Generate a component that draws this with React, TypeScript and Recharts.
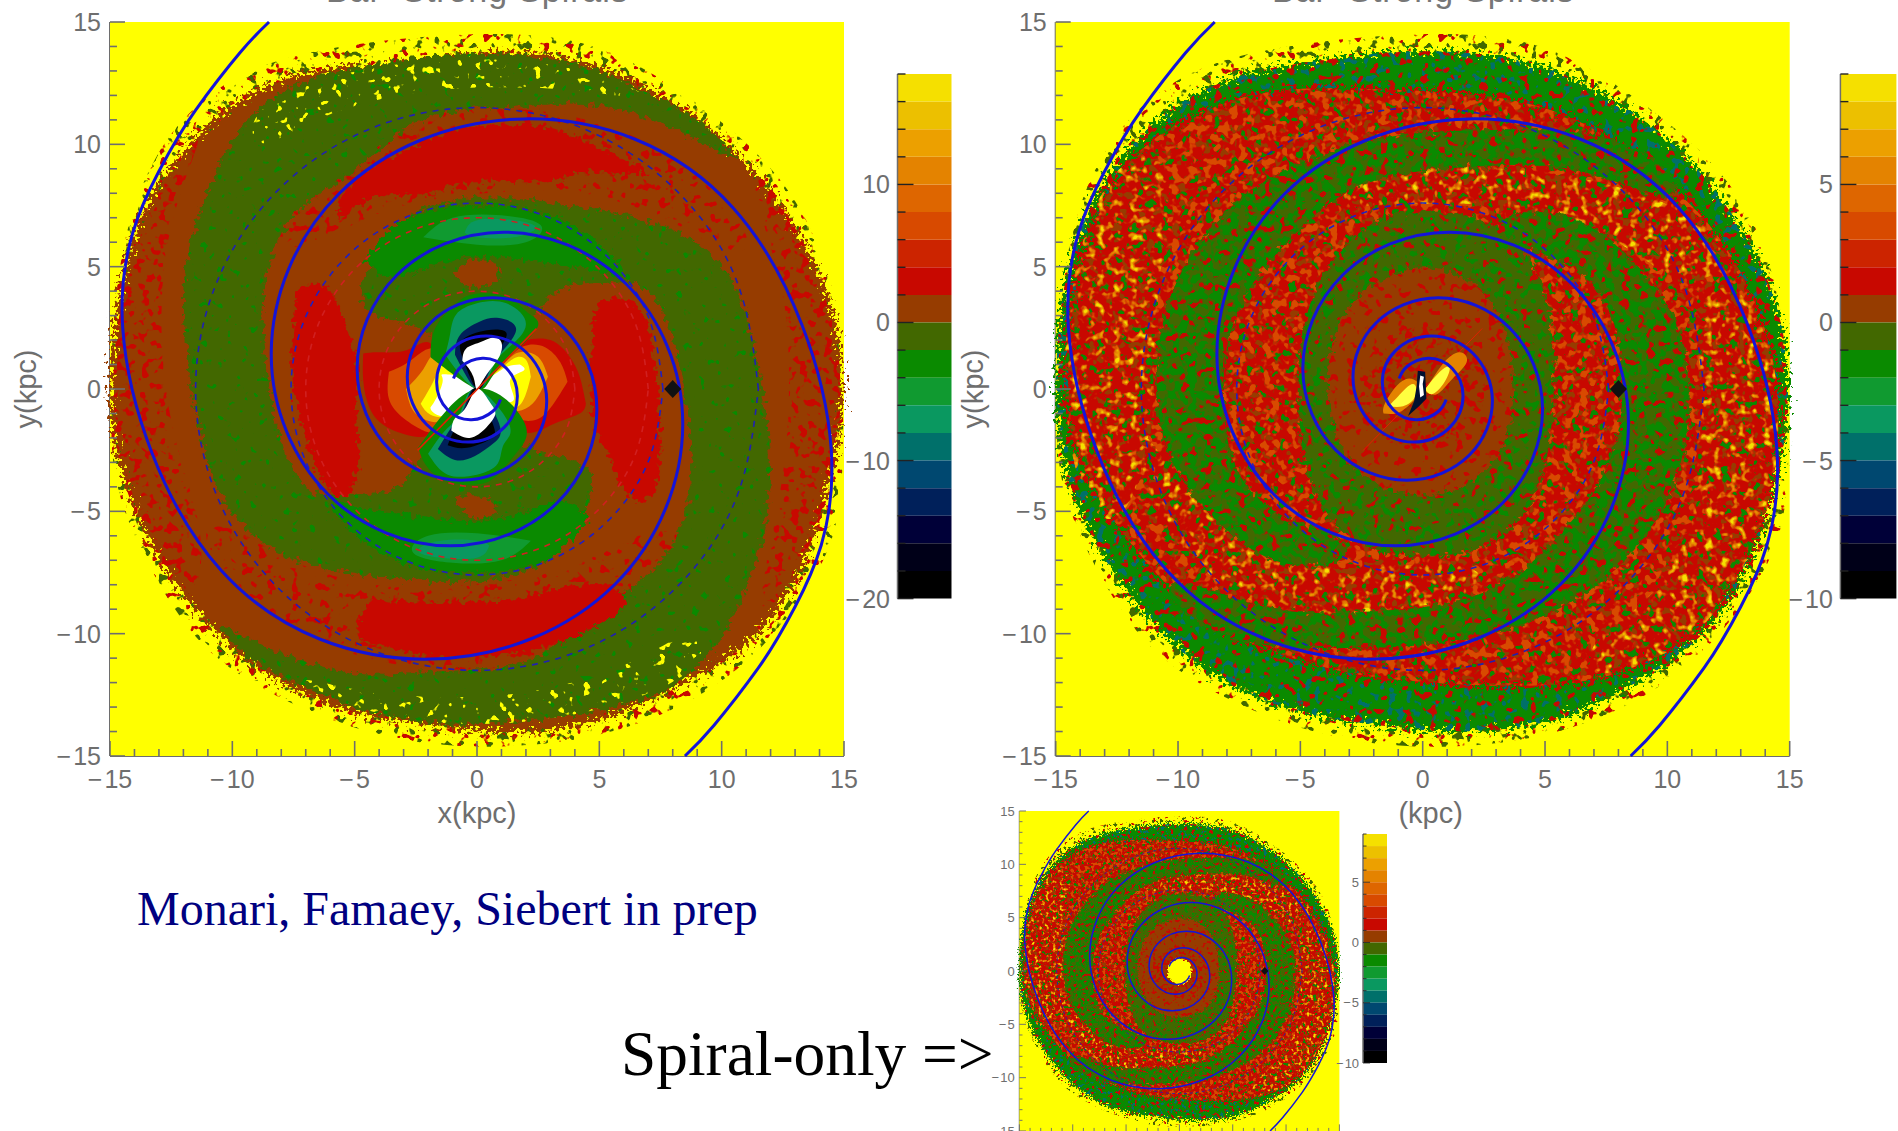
import React from 'react';
import { ScatterChart, Scatter, XAxis, YAxis, BarChart, Bar } from 'recharts';

type Pt = [number, number];
type Layer = { pts: Pt[]; fill?: string; stroke?: string; sw?: number; dash?: number[]; curve?: string; fx?: string };

const BAND_COLORS = ['#f5e000','#ecc000','#eca000','#e48300','#de6600','#d84a00','#cc2400','#c80800','#963c00','#426800','#0a8a00','#109a30','#0a9860','#00706a','#004870','#00205a','#000038','#000018','#000000'];
const AXIS_TICKS = [-15,-14,-13,-12,-11,-10,-9,-8,-7,-6,-5,-4,-3,-2,-1,0,1,2,3,4,5,6,7,8,9,10,11,12,13,14,15];
const LABELLED_TICKS = [-15,-10,-5,0,5,10,15];
const LEFT_BAR_TICKS = [-20,-18,-16,-14,-12,-10,-8,-6,-4,-2,0,2,4,6,8,10,12,14,16,18];
const LEFT_BAR_LABELS = [-20,-10,0,10];
const RIGHT_BAR_TICKS = [-10,-9,-8,-7,-6,-5,-4,-3,-2,-1,0,1,2,3,4,5,6,7,8,9];
const RIGHT_BAR_LABELS = [-10,-5,0,5];

const PLOT_CORNERS: Pt[] = [[-15,-15],[-15,15],[15,15],[15,-15]];
const ARM_ONE: Pt[] = [[-0.96,0.43],[-0.65,0.91],[0.22,1.26],[1.2,0.85],[1.65,-0.29],[1.11,-1.57],[-0.37,-2.17],[-2.06,-1.45],[-2.85,0.49],[-1.91,2.7],[0.65,3.73],[3.55,2.5],[4.9,-0.85],[3.28,-4.65],[-1.11,-6.41],[-6.09,-4.3],[-8.41,1.45],[-5.63,7.99],[1.91,11.04],[10.48,7.39],[14.48,-2.5],[13,-8.9],[11.5,-11.4],[9.69,-13.74],[8.5,-15]];
const ARM_TWO: Pt[] = [[0.96,-0.43],[0.65,-0.91],[-0.22,-1.26],[-1.2,-0.85],[-1.65,0.29],[-1.11,1.57],[0.37,2.17],[2.06,1.45],[2.85,-0.49],[1.91,-2.7],[-0.65,-3.73],[-3.55,-2.5],[-4.9,0.85],[-3.28,4.65],[1.11,6.41],[6.09,4.3],[8.41,-1.45],[5.63,-7.99],[-1.91,-11.04],[-10.48,-7.39],[-14.48,2.5],[-13,8.9],[-11.5,11.4],[-9.69,13.74],[-8.5,15]];
const DASH_R115: Pt[] = [[11.5,0],[10.62,4.4],[8.13,8.13],[4.4,10.62],[0,11.5],[-4.4,10.62],[-8.13,8.13],[-10.62,4.4],[-11.5,0],[-10.62,-4.4],[-8.13,-8.13],[-4.4,-10.62],[0,-11.5],[4.4,-10.62],[8.13,-8.13],[10.62,-4.4],[11.5,0]];
const DASH_R76: Pt[] = [[7.6,0],[7.02,2.91],[5.37,5.37],[2.91,7.02],[0,7.6],[-2.91,7.02],[-5.37,5.37],[-7.02,2.91],[-7.6,0],[-7.02,-2.91],[-5.37,-5.37],[-2.91,-7.02],[0,-7.6],[2.91,-7.02],[5.37,-5.37],[7.02,-2.91],[7.6,0]];
const DASH_R70: Pt[] = [[7,0],[6.47,2.68],[4.95,4.95],[2.68,6.47],[0,7],[-2.68,6.47],[-4.95,4.95],[-6.47,2.68],[-7,0],[-6.47,-2.68],[-4.95,-4.95],[-2.68,-6.47],[0,-7],[2.68,-6.47],[4.95,-4.95],[6.47,-2.68],[7,0]];
const DASH_R40: Pt[] = [[4,0],[3.7,1.53],[2.83,2.83],[1.53,3.7],[0,4],[-1.53,3.7],[-2.83,2.83],[-3.7,1.53],[-4,0],[-3.7,-1.53],[-2.83,-2.83],[-1.53,-3.7],[0,-4],[1.53,-3.7],[2.83,-2.83],[3.7,-1.53],[4,0]];
const BAR_LINE: Pt[] = [[-2.43,-2.51],[2.43,2.47]];
const SUN_MARK: Pt[] = [[8,0]];

const DISK_FRINGE: Pt[] = [[0,14.6],[-4.7,14.2],[-8.8,13.4],[-11.3,11.9],[-13.2,9.7],[-14.6,6.1],[-15,1],[-15,-2],[-14.7,-4.8],[-12.3,-9.4],[-10,-11.8],[-4.7,-14.2],[0,-14.8],[5.8,-14.3],[11,-11.7],[14.2,-7.4],[15,-4.7],[15,1],[14.2,6.1],[11.6,9.9],[6.6,13.4],[3.9,14.4]];

// left panel
const L_DISK: Pt[] = [[0,13.7],[-2,13.4],[-4.5,13.2],[-7,13],[-8.3,12.6],[-10.7,11.3],[-12.5,9.1],[-13.5,7.7],[-14.2,5.8],[-14.7,3.6],[-15,0.9],[-15,-1.8],[-14.2,-4.5],[-13.2,-6.7],[-11.7,-8.9],[-9.5,-11.2],[-7,-12.6],[-4.5,-13.4],[-2,-13.7],[0,-14],[3,-14.1],[5.5,-13.4],[7.5,-12.5],[10.5,-11],[12.2,-9.3],[13.5,-7],[14.2,-4.5],[14.9,-1.8],[15,0.9],[14.5,3.6],[13.5,5.8],[12.5,7.4],[11,9.4],[8.7,11.3],[6.2,12.8],[3.7,13.6],[1.7,13.8]];
const L_ARM_A: Pt[] = [[-8,12.4],[-5,13.2],[-2,13.6],[1,13.8],[4,13.4],[6,12.6],[8.5,11.4],[10,10.2],[11,9],[9,10.3],[5,11.9],[2,11.5],[-1,11.5],[-3,10.8],[-4.5,9.2],[-6,8.3],[-7.5,7.3],[-8.5,5.5],[-8.9,3],[-8.5,0],[-8,-2.5],[-7,-4.2],[-6.2,-4.4],[-4.5,-4.3],[-3.2,-4.2],[-2.5,-3],[-1.5,-2],[-0.3,-0.3],[1.5,-2],[2.5,-2.6],[3.2,-2.8],[4.7,-3],[4.8,-4.5],[4,-5.5],[3,-7.3],[0,-8],[-3,-7.8],[-6,-7.5],[-8.5,-6.6],[-9.7,-5.5],[-10.8,-4],[-11.5,-1],[-12,2],[-12,5],[-11.3,7.5],[-10,10.5]];
const L_ARM_B: Pt[] = [[8,-12.4],[5,-13.2],[2,-13.6],[-1,-13.8],[-4,-13.4],[-6,-12.6],[-8.5,-11.6],[-10,-10.5],[-11,-9.2],[-9,-10.5],[-5,-11.9],[-2,-11.5],[1,-11.5],[3,-10.8],[4.5,-9.2],[6,-8.3],[7.5,-7.3],[8.5,-5.5],[8.9,-3],[8.5,0],[8,2.5],[7,4.2],[6.2,4.4],[4.5,4.3],[3.2,4.2],[2.5,3],[1.5,2],[0.3,0.3],[-1.5,2],[-2.5,2.6],[-3.2,2.8],[-4.7,3],[-4.8,4.5],[-4,5.5],[-3,7.3],[0,8],[3,7.6],[6,7.2],[8.5,6.4],[9.7,5.5],[10.8,4],[11.5,1],[12,-2],[12,-5],[11.3,-7.5],[10,-10.5]];
const L_RED_TOP: Pt[] = [[-5.7,6.9],[-5.5,7.9],[-4.5,9],[-3,9.7],[-1,10.6],[1.5,10.8],[3.5,10.5],[5.5,9.6],[6.9,8.8],[4.5,8.9],[3,8.5],[0,8.5],[-2,8],[-4,7.9]];
const L_RED_BOTTOM: Pt[] = [[-4.4,-8.6],[-2,-8.7],[0,-8.7],[2,-8.5],[4,-8],[5.5,-8.2],[6,-8.9],[4,-10.1],[2,-10.7],[-1,-11],[-3.5,-10.6],[-4.9,-10]];
const L_RED_LEFT: Pt[] = [[-7.5,2.5],[-7.3,4],[-6.7,4.3],[-5.9,3.9],[-5.3,2.5],[-4.9,1],[-4.9,-1],[-4.9,-3.4],[-5.6,-4.4],[-6.4,-3.6],[-7,-2],[-7.5,0]];
const L_RED_RIGHT: Pt[] = [[7.5,-2.5],[7.3,-4],[6.7,-4.6],[5.9,-3.9],[5.3,-2.5],[4.7,-1],[4.7,2],[5,3.5],[6.2,3.6],[7,2.4],[7.4,0]];
const L_ZONE_LEFT: Pt[] = [[-11,11],[-13,8.5],[-14.6,4],[-15,0],[-14.6,-4],[-13,-7],[-11.5,-9],[-11,-6],[-12.5,-2],[-13,2],[-12.8,6],[-11.8,9]];
const L_ZONE_RIGHT: Pt[] = [[11,9.6],[13,7],[14.6,3],[15,0],[14.6,-4],[13.4,-7],[11.4,-10],[11.8,-7],[12.7,-3],[12.8,1],[12.6,4],[11.6,7]];
const L_ZONE_UPPER: Pt[] = [[-9,6],[-7.5,9],[-5,10.8],[-1,11.5],[3,11.5],[7,10.3],[10,8],[11.6,5.6],[10,5.5],[8,7],[4,8.3],[0,8],[-4,7.5],[-7,5.5]];
const L_ZONE_LOWER: Pt[] = [[9,-6],[7.5,-9],[5,-10.8],[1,-11.5],[-3,-11.5],[-7,-10.3],[-10,-8],[-11.6,-5.6],[-10,-5.5],[-8,-7],[-4,-8.3],[0,-8],[4,-7.5],[7,-5.5]];
const L_CAP_TOP: Pt[] = [[-9.5,11.2],[-7,12.6],[-3,13.4],[1,13.6],[5,13],[8,11.5],[5,12.2],[1,12.4],[-3,12.2],[-7,11],[-9,9.5]];
const L_CAP_BOTTOM: Pt[] = [[9.5,-11.2],[7,-12.6],[3,-13.6],[-1,-13.8],[-5,-13.2],[-8,-11.5],[-5,-12.4],[-1,-12.7],[3,-12.4],[7,-11],[9,-9.5]];
const L_GREEN_TOP: Pt[] = [[-4.6,5.2],[-3,6.9],[0,7.5],[3,7.1],[5,5.9],[6,4.7],[4.5,4.9],[2.5,5.2],[0,5.4],[-2,5],[-3.5,4.6]];
const L_GREEN_BOTTOM: Pt[] = [[4.6,-5.2],[3,-6.9],[0,-7.5],[-3,-7.1],[-5,-5.9],[-6,-4.7],[-4.5,-4.9],[-2.5,-5.2],[0,-5.4],[2,-5],[3.5,-4.6]];
const L_MID_TOP: Pt[] = [[-2.2,6.2],[-1,7],[1,7.1],[2.6,6.7],[2,6],[0,5.9]];
const L_MID_BOTTOM: Pt[] = [[2.2,-6.2],[1,-7],[-1,-7.1],[-2.6,-6.7],[-2,-6],[0,-5.9]];
const L_TEAL_TOP: Pt[] = [[-0.5,6.4],[0,6.9],[1.5,6.9],[2.4,6.6],[1.5,6.2],[0,6.2]];
const L_TEAL_BOTTOM: Pt[] = [[0.5,-6.4],[0,-6.9],[-1.5,-6.9],[-2.4,-6.6],[-1.5,-6.2],[0,-6.2]];
const L_BLOB_TOP: Pt[] = [[-0.9,4.7],[-0.4,5.2],[0.6,5.2],[0.9,4.6],[0.3,4.2],[-0.4,4.2]];
const L_BLOB_BOTTOM: Pt[] = [[-0.9,-4.6],[-0.4,-4.3],[0.4,-4.5],[0.8,-5],[0.2,-5.3],[-0.5,-5.1]];
const LOBE_TOP_G: Pt[] = [[-1.9,1.3],[-1.7,2.5],[-0.85,3.5],[0,3.9],[1.3,3.75],[2.1,3.1],[2.4,2.4],[0.8,0.75],[0,0]];
const LOBE_TOP_T: Pt[] = [[-1.3,1.4],[-1.1,2.25],[-0.85,3.05],[0,3.5],[1.2,3.5],[2,2.65],[1.3,1.7],[0.65,0.9],[0,0]];
const LOBE_TOP_D: Pt[] = [[-0.9,1.4],[-0.7,2.2],[0.1,2.75],[0.9,2.9],[1.6,2.45],[1,1.5],[0.5,0.7],[0,0]];
const LOBE_TOP_K: Pt[] = [[-0.6,1.3],[-0.6,2],[0.4,2.4],[1.2,2.3],[0.9,1.6],[0.4,0.6],[0,0]];
const LOBE_TOP_W: Pt[] = [[-0.6,1.15],[-0.45,1.65],[0.1,1.9],[0.65,2.1],[1,1.9],[0.9,1.3],[0.4,0.6],[0,0],[-0.15,0.5]];
const LOBE_BOT_G: Pt[] = [[-2.4,-2.4],[-2.1,-3.1],[-1.3,-3.75],[0,-3.9],[0.85,-3.5],[1.7,-2.5],[1.9,-1.3],[0,0]];
const LOBE_BOT_T: Pt[] = [[-2,-2.65],[-1.2,-3.5],[0,-3.5],[0.85,-3.05],[1.1,-2.25],[1.3,-1.4],[0,0],[-0.65,-0.9],[-1.3,-1.7]];
const LOBE_BOT_D: Pt[] = [[-1.6,-2.45],[-0.9,-2.9],[-0.1,-2.75],[0.7,-2.2],[0.9,-1.4],[0,0],[-0.5,-0.7],[-1,-1.5]];
const LOBE_BOT_K: Pt[] = [[-1.2,-2.3],[-0.4,-2.4],[0.6,-2],[0.6,-1.3],[0,0],[-0.4,-0.6],[-0.9,-1.6]];
const LOBE_BOT_W: Pt[] = [[-1.05,-1.7],[-0.3,-2],[0.4,-1.55],[0.75,-1],[0.5,-0.5],[0,0],[-0.45,-0.75],[-0.9,-1.2]];
const LOBE_L_1: Pt[] = [[-4.65,1.45],[-4.65,0.35],[-4.4,-0.75],[-3.7,-1.55],[-2.5,-1.95],[-1.8,-1.75],[-0.85,-0.9],[0,0],[-0.85,0.9],[-1.7,1.7],[-2.2,1.9],[-3,1.55],[-4,1.5]];
const LOBE_L_2: Pt[] = [[-3.6,0.7],[-3.6,-0.4],[-3,-1.2],[-2.2,-1.7],[-1.7,-1.65],[-0.85,-0.9],[0,0],[-0.85,0.9],[-1.5,1.55],[-2.1,1.6],[-2.8,1.1]];
const LOBE_L_3: Pt[] = [[-2.9,0],[-2.6,-0.9],[-2,-1.3],[-1.5,-1.3],[-0.8,-0.8],[0,0],[-0.8,0.8],[-1.3,1.3],[-1.8,1.4],[-2.2,0.8]];
const LOBE_L_4: Pt[] = [[-2.3,-0.6],[-1.9,-1.05],[-1.2,-1.1],[-0.6,-0.6],[0,0],[-0.65,0.65],[-1.1,1.05],[-1.5,1.1],[-1.7,0.5]];
const LOBE_L_5: Pt[] = [[-1.9,-0.75],[-1.65,-0.35],[-1.4,0.35],[-1.4,0.6],[-0.7,0.5],[-0.3,0.2],[0,0],[-0.55,-0.45],[-0.95,-1],[-1.5,-1.1],[-1.85,-0.9]];
const LOBE_R_1: Pt[] = [[4.45,-0.6],[4.2,0.5],[3.8,1.3],[3,2],[2,2],[1.6,1.7],[0.8,0.8],[0,0],[0.65,-1],[1.3,-1.4],[2.1,-1.8],[3.2,-1.4],[4.2,-1]];
const LOBE_R_2: Pt[] = [[3.7,0.3],[3.4,1.1],[2.8,1.7],[2.1,1.8],[1.5,1.5],[0.8,0.8],[0,0],[0.7,-0.9],[1.4,-1.2],[2.2,-1.3],[2.9,-0.9]];
const LOBE_R_3: Pt[] = [[2.9,0.5],[2.6,1.2],[2.1,1.5],[1.5,1.4],[0.8,0.75],[0,0],[0.65,-0.75],[1.3,-0.95],[2,-0.8],[2.5,-0.3]];
const LOBE_R_4: Pt[] = [[2.2,0.5],[2,1.2],[1.5,1.25],[0.8,0.7],[0,0],[0.6,-0.7],[1.2,-0.8],[1.8,-0.6]];
const LOBE_R_5: Pt[] = [[1.75,1],[1.9,0.75],[1.35,0.35],[1.5,-0.45],[0.65,-0.45],[0,0],[0.65,0.55],[1.2,0.9]];

// right panel
const R_DISK: Pt[] = [[0,13.9],[-3,13.6],[-6,13.2],[-8.3,12.6],[-10.7,11.3],[-12.5,9.3],[-13.5,7.7],[-14.3,5.8],[-14.8,3.6],[-15,0.9],[-15,-1.8],[-14.3,-4.5],[-13.2,-6.7],[-11.7,-8.9],[-9.5,-11.2],[-7,-12.6],[-4.5,-13.4],[-2,-13.7],[0,-14],[3,-14],[5.5,-13.6],[7.5,-12.7],[10.5,-11],[12.2,-9.3],[13.5,-7],[14.3,-4.5],[14.9,-1.8],[15,0.9],[14.5,3.6],[13.5,5.8],[12.5,7.4],[11,9.4],[8.7,11.3],[6.2,12.8],[3.7,13.6]];
const R_RED_BASE: Pt[] = [[0,12.2],[3,12],[6,11.3],[8.5,9.7],[10.5,8],[12,6.5],[13.5,4],[14.5,1],[14.6,-2],[14.2,-5],[13,-7.5],[11.8,-9.5],[9.8,-11],[7,-12],[4,-12.2],[0,-12],[-3,-11.7],[-6,-10.8],[-8.8,-9.7],[-11,-7.5],[-13,-5],[-14.3,-2.5],[-14.7,0],[-14.5,3],[-14,5.5],[-13,8],[-11.5,10],[-9,11.5],[-6,12.3],[-3,12.3]];
const R_ARM_A: Pt[] = [[3,7.2],[6,7.4],[8.5,5.5],[10.5,3],[11,0],[10.7,-3],[9.6,-5.5],[7.5,-8],[4.5,-9.6],[1,-10.5],[-3,-10.6],[-7,-10.6],[-9.5,-9.5],[-10.8,-8],[-9.5,-7.8],[-6,-9.3],[-2,-9.1],[2,-8.8],[4.5,-7.2],[6,-5.5],[7.3,-4],[8.2,-1.5],[8.2,1.5],[7.5,4],[5.5,5.5],[3,6]];
const R_ARM_B: Pt[] = [[-3,-7.2],[-6,-7.4],[-8.5,-5.5],[-10.5,-3],[-11,0],[-10.7,3],[-9.6,5.5],[-7.5,8],[-4.5,9.6],[-1,10.5],[3,10.6],[7,10.6],[9.5,9.5],[10.8,8],[9.5,7.8],[6,9.3],[2,9.1],[-2,8.8],[-4.5,7.2],[-6,5.5],[-7.3,4],[-8.2,1.5],[-8.2,-1.5],[-7.5,-4],[-5.5,-5.5],[-3,-6]];
const R_RING: Pt[] = [[0,7.4],[3,7],[4.8,5],[5.4,2],[5.4,0],[5.2,-2.5],[4.5,-5],[2.5,-6.7],[0,-6.9],[-2.5,-6.6],[-4.2,-5],[-5,-2.5],[-5.1,0],[-5,2.5],[-4,5.2],[-2,7]];
const R_CORE: Pt[] = [[0,5.2],[2.3,4.5],[3.5,2.5],[3.8,0],[3.5,-2.5],[2,-4],[0,-4.5],[-2,-4],[-3.5,-2.5],[-4,0],[-3.7,2.5],[-2.3,4.3]];
const R_INNER: Pt[] = [[0,2.8],[2,2],[2.8,0],[2,-2],[0,-2.8],[-2,-2],[-2.8,0],[-2,2]];
const R_HOT_LEFT: Pt[] = [[-13,9],[-14.6,4],[-14.7,-1],[-14,-4.5],[-12.5,-6],[-11.2,-3],[-11,1],[-10.8,5],[-10,8.5],[-11,9.8]];
const R_HOT_SWEEP: Pt[] = [[-11.8,-1],[-10.2,-3.5],[-8.3,-5.7],[-6.3,-7.3],[-3,-7.4],[0,-7.1],[3,-7.3],[1.5,-8.8],[-3,-9.2],[-6,-9.3],[-9.3,-7.5],[-11.5,-4]];
const R_HOT_RIGHT: Pt[] = [[11.2,4.5],[13.3,4.2],[14.5,1],[14.6,-2],[14.2,-5],[13,-7.5],[11.8,-9.5],[9.8,-11],[7,-12],[6.5,-10.5],[9,-9],[10.8,-6.5],[11.5,-3],[11.3,1]];
const R_HOT_TOP: Pt[] = [[13,5],[11.5,7],[8,8.4],[4,9],[0,9.2],[-3,8.9],[-5,7.8],[-3,7.4],[0,7.6],[4,7.6],[8,6.3],[10.5,4]];
const BAR_ORANGE_R: Pt[] = [[0.1,-0.1],[0.8,1],[1.5,1.5],[1.8,1.1],[1.2,0.4],[0.6,-0.2]];
const BAR_YELLOW_R: Pt[] = [[0.1,0],[0.7,0.7],[1.1,0.9],[0.9,0.3],[0.4,-0.2]];
const BAR_ORANGE_L: Pt[] = [[-1.6,-1],[-1.5,-0.5],[-0.7,0.4],[-0.1,0],[-0.6,-0.7],[-1.1,-1]];
const BAR_YELLOW_L: Pt[] = [[-1.4,-0.7],[-1,-0.3],[-0.4,0.2],[-0.3,-0.3],[-0.8,-0.7]];
const BAR_DARK: Pt[] = [[-0.2,0.75],[0.1,0.7],[0.15,-0.4],[-0.15,-0.7],[-0.6,-1.1],[-0.35,-0.5],[-0.25,0.1]];
const BAR_WHITE: Pt[] = [[-0.1,0.55],[0.05,0.5],[0,0.2],[0.05,-0.25],[-0.1,-0.35],[-0.15,0.1]];
const HOLE_SMALL: Pt[] = [[0,1.2],[0.9,0.85],[1.15,0],[0.8,-0.9],[0,-1.25],[-0.85,-0.85],[-1.1,0],[-0.8,0.8]];

const BR = '#963c00', OL = '#426800', GN = '#0a8a00', G2 = '#109a30', TL = '#0a9860', RD = '#c80800', YW = '#ffff00', WT = '#ffffff', BK = '#000000';

const NOISE_STYLES: [string, string, number, number][] = [
  ['redHeavy', RD, 0.5, 3], ['redMid', RD, 0.56, 7], ['redLight', RD, 0.61, 11],
  ['hot1', '#cc2400', 0.52, 17], ['hot2', '#d84a00', 0.57, 17], ['hot3', '#de6600', 0.59, 17], ['hot4', '#e48300', 0.63, 17], ['hot5', '#eca000', 0.67, 17], ['hot6', '#f5e000', 0.72, 17],
  ['brown', BR, 0.58, 23], ['greenHeavy', GN, 0.47, 29], ['greenMid', GN, 0.56, 31], ['greenLight', GN, 0.6, 37], ['greenRare', GN, 0.68, 37],
  ['teal', '#00706a', 0.6, 43], ['yellowFleck', YW, 0.64, 47], ['oliveSparse', OL, 0.62, 53],
  ['redSparse', RD, 0.64, 59],
];

const base: Layer[] = [{ pts: PLOT_CORNERS, fill: YW, curve: 'linearClosed' }];

const overlays = (hasRed: boolean): Layer[] => [
  { pts: DASH_R115, stroke: '#2020b0', sw: 1.6, dash: [6, 6], curve: 'natural' },
  { pts: DASH_R76, stroke: '#2020c0', sw: 1.6, dash: [6, 6], curve: 'natural' },
  ...(hasRed ? [
    { pts: DASH_R70, stroke: '#d02020', sw: 1.6, dash: [6, 6], curve: 'natural' },
    { pts: DASH_R40, stroke: '#d02020', sw: 1.6, dash: [6, 6], curve: 'natural' },
  ] : []),
  { pts: ARM_ONE, stroke: '#1414d8', sw: 3, curve: 'natural' },
  { pts: ARM_TWO, stroke: '#1414d8', sw: 3, curve: 'natural' },
];

const leftLayers: Layer[] = [
  ...base,
  { pts: DISK_FRINGE, fill: BK, fx: 'oliveSparse' },
  { pts: DISK_FRINGE, fill: BK, fx: 'redSparse' },
  { pts: L_DISK, fill: BR, fx: 'jagRim' },
  { pts: L_ZONE_LEFT, fill: BK, fx: 'redMid' },
  { pts: L_ZONE_RIGHT, fill: BK, fx: 'redMid' },
  { pts: L_ZONE_UPPER, fill: BK, fx: 'redLight' },
  { pts: L_ZONE_LOWER, fill: BK, fx: 'redLight' },
  { pts: L_ARM_A, fill: OL, fx: 'jag' },
  { pts: L_ARM_B, fill: OL, fx: 'jag' },
  { pts: L_ARM_A, fill: BK, fx: 'greenRare' },
  { pts: L_ARM_B, fill: BK, fx: 'greenRare' },
  { pts: L_CAP_TOP, fill: BK, fx: 'yellowFleck' },
  { pts: L_CAP_BOTTOM, fill: BK, fx: 'yellowFleck' },
  { pts: L_RED_TOP, fill: RD, fx: 'jag', curve: 'natural' },
  { pts: L_RED_BOTTOM, fill: RD, fx: 'jag', curve: 'natural' },
  { pts: L_RED_LEFT, fill: RD, fx: 'jag', curve: 'natural' },
  { pts: L_RED_RIGHT, fill: RD, fx: 'jag', curve: 'natural' },
  { pts: L_GREEN_TOP, fill: GN, fx: 'jag', curve: 'natural' },
  { pts: L_GREEN_BOTTOM, fill: GN, fx: 'jag', curve: 'natural' },
  { pts: L_MID_TOP, fill: G2, curve: 'natural' },
  { pts: L_MID_BOTTOM, fill: G2, curve: 'natural' },
  { pts: L_TEAL_TOP, fill: TL, curve: 'natural' },
  { pts: L_TEAL_BOTTOM, fill: TL, curve: 'natural' },
  { pts: L_BLOB_TOP, fill: BR, fx: 'jag', curve: 'natural' },
  { pts: L_BLOB_BOTTOM, fill: BR, fx: 'jag', curve: 'natural' },
  { pts: LOBE_L_1, fill: RD, curve: 'natural' },
  { pts: LOBE_R_1, fill: RD, curve: 'natural' },
  { pts: LOBE_L_2, fill: '#d84a00', curve: 'natural' },
  { pts: LOBE_R_2, fill: '#d84a00', curve: 'natural' },
  { pts: LOBE_L_3, fill: '#eca000', curve: 'natural' },
  { pts: LOBE_R_3, fill: '#eca000', curve: 'natural' },
  { pts: LOBE_L_4, fill: YW, curve: 'natural' },
  { pts: LOBE_R_4, fill: YW, curve: 'natural' },
  { pts: LOBE_L_5, fill: WT, curve: 'natural' },
  { pts: LOBE_R_5, fill: WT, curve: 'natural' },
  { pts: LOBE_TOP_G, fill: GN, curve: 'natural' },
  { pts: LOBE_BOT_G, fill: GN, curve: 'natural' },
  { pts: LOBE_TOP_T, fill: TL, curve: 'natural' },
  { pts: LOBE_BOT_T, fill: TL, curve: 'natural' },
  { pts: LOBE_TOP_D, fill: '#00205a', curve: 'natural' },
  { pts: LOBE_BOT_D, fill: '#00205a', curve: 'natural' },
  { pts: LOBE_TOP_K, fill: BK, curve: 'natural' },
  { pts: LOBE_BOT_K, fill: BK, curve: 'natural' },
  { pts: LOBE_TOP_W, fill: WT, curve: 'natural' },
  { pts: LOBE_BOT_W, fill: WT, curve: 'natural' },
  { pts: BAR_LINE, stroke: '#e02000', sw: 1.6, curve: 'linear' },
  ...overlays(true),
];

const hotLayers = (pts: Pt[]): Layer[] => [
  { pts, fill: BK, fx: 'hot3' },
  { pts, fill: BK, fx: 'hot4' },
  { pts, fill: BK, fx: 'hot5' },
  { pts, fill: BK, fx: 'hot6' },
];

const rightCommon: Layer[] = [
  ...base,
  { pts: DISK_FRINGE, fill: BK, fx: 'redSparse' },
  { pts: DISK_FRINGE, fill: BK, fx: 'oliveSparse' },
  { pts: R_DISK, fill: GN, fx: 'jagRim' },
  { pts: R_DISK, fill: BK, fx: 'teal' },
  { pts: R_DISK, fill: BK, fx: 'redLight' },
  { pts: R_RED_BASE, fill: RD, fx: 'jagRim' },
  { pts: R_RED_BASE, fill: BK, fx: 'brown' },
  { pts: R_RED_BASE, fill: BK, fx: 'greenLight' },
  { pts: R_RED_BASE, fill: BK, fx: 'hot1' },
  { pts: R_RED_BASE, fill: BK, fx: 'hot2' },
  ...hotLayers(R_HOT_LEFT),
  ...hotLayers(R_HOT_RIGHT),
  ...hotLayers(R_HOT_SWEEP),
  ...hotLayers(R_HOT_TOP),
  { pts: R_ARM_A, fill: OL, fx: 'jag' },
  { pts: R_ARM_B, fill: OL, fx: 'jag' },
  { pts: R_ARM_A, fill: BK, fx: 'greenHeavy' },
  { pts: R_ARM_B, fill: BK, fx: 'greenHeavy' },
  { pts: R_ARM_A, fill: BK, fx: 'redLight' },
  { pts: R_ARM_B, fill: BK, fx: 'redLight' },
  { pts: R_RING, fill: OL, fx: 'jag' },
  { pts: R_RING, fill: BK, fx: 'greenMid' },
  { pts: R_RING, fill: BK, fx: 'redSparse' },
  { pts: R_CORE, fill: BR, fx: 'jag' },
  { pts: R_CORE, fill: BK, fx: 'redLight' },
  { pts: R_INNER, fill: BK, fx: 'redMid' },
];

const rightLayers: Layer[] = [
  ...rightCommon,
  { pts: BAR_LINE, stroke: '#e02000', sw: 1, curve: 'linear' },
  { pts: BAR_ORANGE_R, fill: '#e48300', curve: 'natural' },
  { pts: BAR_YELLOW_R, fill: '#ffff40', curve: 'natural' },
  { pts: BAR_ORANGE_L, fill: '#e48300', curve: 'natural' },
  { pts: BAR_YELLOW_L, fill: '#ffff40', curve: 'natural' },
  { pts: BAR_DARK, fill: '#001030', curve: 'linearClosed' },
  { pts: BAR_WHITE, fill: WT, curve: 'linearClosed' },
  ...overlays(false),
];

const smallLayers: Layer[] = [
  ...rightCommon,
  { pts: HOLE_SMALL, fill: YW, fx: 'jag', curve: 'natural' },
  ...overlays(false),
];

const toRows = (pts: Pt[], close: boolean) => (close ? [...pts, pts[0]] : pts).map(([x, y]) => ({ x, y }));
const NoDot = () => <g />;
const SANS = '"Liberation Sans", sans-serif';
const INK = '#6e6e6e';
const minus = (v: number) => String(v).replace('-', '\u2212\u200a');

const hexPart = (c: string, i: number) => (parseInt(c.slice(1 + i * 2, 3 + i * 2), 16) / 255).toFixed(3);

function Filters() {
  const variants: [string, number, number][] = [['', 0.12, 1], ['S', 0.28, 0.5]];
  return (
    <svg width={0} height={0} style={{ position: 'absolute' }} aria-hidden="true">
      <defs>
        {variants.map(([suffix, freq, k]) => (
          <React.Fragment key={suffix}>
            <filter id={`jag${suffix}`} x="-5%" y="-5%" width="110%" height="110%" colorInterpolationFilters="sRGB">
              <feTurbulence type="fractalNoise" baseFrequency={freq * 1.5} numOctaves={2} seed={5} result="n" />
              <feDisplacementMap in="SourceGraphic" in2="n" scale={14 * k} xChannelSelector="R" yChannelSelector="G" />
            </filter>
            <filter id={`jagRim${suffix}`} x="-5%" y="-5%" width="110%" height="110%" colorInterpolationFilters="sRGB">
              <feTurbulence type="fractalNoise" baseFrequency={freq * 2.4} numOctaves={2} seed={9} result="n" />
              <feDisplacementMap in="SourceGraphic" in2="n" scale={30 * k} xChannelSelector="R" yChannelSelector="G" />
            </filter>
            {NOISE_STYLES.map(([id, color, cut, seed]) => (
              <filter key={id} id={`${id}${suffix}`} x="0" y="0" width="1" height="1" colorInterpolationFilters="sRGB">
                <feTurbulence type="fractalNoise" baseFrequency={freq} numOctaves={2} seed={seed} result="n" />
                <feColorMatrix in="n" type="matrix" values={`0 0 0 0 ${hexPart(color, 0)} 0 0 0 0 ${hexPart(color, 1)} 0 0 0 0 ${hexPart(color, 2)} 16 0 0 0 ${(-16 * cut).toFixed(2)}`} result="b" />
                <feComposite in="b" in2="SourceAlpha" operator="in" />
              </filter>
            ))}
          </React.Fragment>
        ))}
      </defs>
    </svg>
  );
}

type PanelProps = { left: number; top: number; plotLeft: number; plotTop: number; plotSize: number; layers: Layer[]; font: number; scale: number; suffix: string; xLabel: string; xShift: number; yLabel?: string; yLabelX: number };

function Panel({ left, top, plotLeft, plotTop, plotSize, layers, font, scale, suffix, xLabel, xShift, yLabel, yLabelX }: PanelProps) {
  const yW = plotLeft - left;
  const xH = font * 3.4;
  const h = plotTop - top + plotSize + xH;
  const w = yW + plotSize + 16;
  const major = (v: number) => LABELLED_TICKS.includes(v);
  const tl = (v: number) => (major(v) ? 15 : 7) * scale;
  const tw = 1.6 * Math.max(scale, 0.6);
  const bottomTick = (p: any) => (
    <g>
      <line x1={p.x} x2={p.x} y1={p.y} y2={p.y - tl(p.payload.value)} stroke={INK} strokeWidth={tw} />
      {major(p.payload.value) ? <text x={p.x} y={p.y + font * 1.28} textAnchor="middle" fontSize={font} fontFamily={SANS} fill={INK}>{minus(p.payload.value)}</text> : null}
    </g>
  );
  const topTick = (p: any) => <line x1={p.x} x2={p.x} y1={p.y} y2={p.y + tl(p.payload.value)} stroke={INK} strokeWidth={tw} />;
  const leftTick = (p: any) => (
    <g>
      <line x1={p.x} x2={p.x + tl(p.payload.value)} y1={p.y} y2={p.y} stroke={INK} strokeWidth={tw} />
      {major(p.payload.value) ? <text x={p.x - font * 0.36} y={p.y + font * 0.36} textAnchor="end" fontSize={font} fontFamily={SANS} fill={INK}>{minus(p.payload.value)}</text> : null}
    </g>
  );
  const rightTick = (p: any) => <line x1={p.x} x2={p.x - tl(p.payload.value)} y1={p.y} y2={p.y} stroke={INK} strokeWidth={tw} />;
  const axisLine = { stroke: INK, strokeWidth: 2 * Math.max(scale, 0.6) };
  return (
    <div style={{ position: 'absolute', left, top, width: w, height: h }}>
      <ScatterChart width={w} height={h} margin={{ top: plotTop - top, right: 16, bottom: 0, left: 0 }}>
        {layers.map((l, i) => (
          <Scatter
            key={i}
            data={toRows(l.pts, !!l.fill && l.curve === 'natural')}
            fill={l.fill ?? 'none'}
            isAnimationActive={false}
            legendType="none"
            shape={NoDot}
            lineJointType={(l.curve ?? 'basisClosed') as any}
            line={{
              fill: l.fill ?? 'none',
              stroke: l.stroke ?? 'none',
              strokeWidth: (l.sw ?? 0) * (l.stroke ? Math.max(scale, 0.5) : 1),
              strokeDasharray: l.dash ? l.dash.map((d) => d * Math.max(scale, 0.5)).join(' ') : undefined,
              filter: l.fx ? `url(#${l.fx}${suffix})` : undefined,
            } as any}
          />
        ))}
        <Scatter
          data={toRows(SUN_MARK, false)}
          isAnimationActive={false}
          legendType="none"
          shape={(p: any) => <polygon points={`${p.cx - 8.5 * scale},${p.cy} ${p.cx},${p.cy - 9 * scale} ${p.cx + 8.5 * scale},${p.cy} ${p.cx},${p.cy + 9 * scale}`} fill="#111" />}
        />
        <XAxis xAxisId={0} type="number" dataKey="x" domain={[-15, 15]} ticks={AXIS_TICKS} interval={0} height={xH} tickLine={false} tickSize={0} tickMargin={0} tick={bottomTick} axisLine={axisLine} label={xLabel ? { value: xLabel, position: 'insideBottom', offset: font * 0.72, dx: xShift, fontSize: font * 1.16, fontFamily: SANS, fill: INK } : undefined} />
        <XAxis xAxisId="top" orientation="top" type="number" domain={[-15, 15]} ticks={AXIS_TICKS} interval={0} height={0} tickLine={false} tickSize={0} tickMargin={0} tick={topTick} axisLine={axisLine} />
        <YAxis yAxisId={0} type="number" dataKey="y" domain={[-15, 15]} ticks={AXIS_TICKS} interval={0} width={yW} tickLine={false} tickSize={0} tickMargin={0} tick={leftTick} axisLine={axisLine} label={yLabel ? { value: yLabel, angle: -90, position: 'insideLeft', offset: yLabelX, fontSize: font * 1.16, fontFamily: SANS, fill: INK, style: { textAnchor: 'middle' } } : undefined} />
        <YAxis yAxisId="right" orientation="right" type="number" domain={[-15, 15]} ticks={AXIS_TICKS} interval={0} width={0} tickLine={false} tickSize={0} tickMargin={0} tick={rightTick} axisLine={axisLine} />
      </ScatterChart>
    </div>
  );
}

type BarProps = { left: number; top: number; barLeft: number; barRight: number; barTop: number; barBottom: number; step: number; lo: number; hi: number; ticks: number[]; labels: number[]; font: number; scale: number };

function ColorBar({ left, top, barLeft, barRight, barTop, barBottom, step, lo, hi, ticks, labels, font, scale }: BarProps) {
  const pad = font;
  const w = barRight - left + 2;
  const h = barBottom - top + pad;
  const row: Record<string, number | string> = { name: 'scale' };
  const positive = Math.round(hi / step);
  const keys = BAND_COLORS.map((_, i) => `band${i}`);
  BAND_COLORS.forEach((_, i) => { row[keys[i]] = i < positive ? step : -step; });
  const order = [...BAND_COLORS.keys()].sort((a, b) => (a < positive && b < positive ? b - a : a - b));
  const tl = (v: number) => (labels.includes(v) ? 16 : 8) * scale;
  const leftTick = (p: any) => (
    <g>
      <line x1={p.x} x2={p.x + tl(p.payload.value)} y1={p.y} y2={p.y} stroke="#222" strokeWidth={1.4 * Math.max(scale, 0.6)} />
      {labels.includes(p.payload.value) ? <text x={p.x - font * 0.3} y={p.y + font * 0.36} textAnchor="end" fontSize={font} fontFamily={SANS} fill={INK}>{minus(p.payload.value)}</text> : null}
    </g>
  );
  const rightTick = (p: any) => <line x1={p.x} x2={p.x - tl(p.payload.value)} y1={p.y} y2={p.y} stroke="#222" strokeWidth={1.4 * Math.max(scale, 0.6)} />;
  return (
    <div style={{ position: 'absolute', left, top, width: w, height: h }}>
      <BarChart width={w} height={h} data={[row]} stackOffset="sign" barCategoryGap={0} margin={{ top: barTop - top, right: 2, bottom: pad, left: 0 }}>
        {order.map((i) => (
          <Bar key={i} dataKey={keys[i]} stackId="s" fill={BAND_COLORS[i]} isAnimationActive={false} />
        ))}
        <XAxis dataKey="name" height={0} tick={false} tickLine={false} axisLine={{ stroke: INK, strokeWidth: 1.5 }} />
        <XAxis xAxisId="top" orientation="top" dataKey="name" height={0} tick={false} tickLine={false} axisLine={{ stroke: INK, strokeWidth: 1.5 }} />
        <YAxis type="number" domain={[lo, hi]} ticks={ticks} interval={0} width={barLeft - left} tickLine={false} tickSize={0} tickMargin={0} tick={leftTick} axisLine={{ stroke: INK, strokeWidth: 1.5 }} />
        <YAxis yAxisId="right" orientation="right" type="number" domain={[lo, hi]} ticks={ticks} interval={0} width={0} tickLine={false} tickSize={0} tickMargin={0} tick={rightTick} axisLine={{ stroke: INK, strokeWidth: 1.5 }} />
      </BarChart>
    </div>
  );
}

const textBase: React.CSSProperties = { position: 'absolute', whiteSpace: 'nowrap', lineHeight: 1 };

export default function App() {
  return (
    <div style={{ position: 'absolute', left: 0, top: 0, width: 1898, height: 1131, overflow: 'hidden', background: '#fff' }}>
      <Filters />
      <Panel left={0} top={0} plotLeft={110} plotTop={22} plotSize={734} layers={leftLayers} font={25} scale={1} suffix="" xLabel="x(kpc)" xShift={0} yLabel="y(kpc)" yLabelX={26} />
      <ColorBar left={835} top={54} barLeft={897.5} barRight={951} barTop={74} barBottom={598.6} step={2} lo={-20} hi={18} ticks={LEFT_BAR_TICKS} labels={LEFT_BAR_LABELS} font={25} scale={1} />
      <Panel left={955} top={0} plotLeft={1055.7} plotTop={22} plotSize={734} layers={rightLayers} font={25} scale={1} suffix="" xLabel="(kpc)" xShift={8} yLabel="y(kpc)" yLabelX={18} />
      <ColorBar left={1785} top={54} barLeft={1840.4} barRight={1896} barTop={74} barBottom={598.6} step={1} lo={-10} hi={9} ticks={RIGHT_BAR_TICKS} labels={RIGHT_BAR_LABELS} font={25} scale={1} />
      <Panel left={985} top={795} plotLeft={1019.4} plotTop={811} plotSize={320} layers={smallLayers} font={13} scale={0.44} suffix="S" xLabel="" xShift={0} yLabelX={0} />
      <ColorBar left={1335} top={815} barLeft={1363} barRight={1387} barTop={834} barBottom={1063} step={1} lo={-10} hi={9} ticks={RIGHT_BAR_TICKS} labels={RIGHT_BAR_LABELS} font={13} scale={0.44} />
      <div style={{ ...textBase, left: 326, top: -27, fontFamily: SANS, fontSize: 34, letterSpacing: 0.9, color: '#777' }}>Bar+Strong Spirals</div>
      <div style={{ ...textBase, left: 1272, top: -27, fontFamily: SANS, fontSize: 34, letterSpacing: 0.9, color: '#777' }}>Bar+Strong Spirals</div>
      <div style={{ ...textBase, left: 137, top: 885, fontFamily: '"Liberation Serif", serif', fontSize: 48, color: '#000080' }}>Monari, Famaey, Siebert in prep</div>
      <div style={{ ...textBase, left: 621, top: 1023, fontFamily: '"Liberation Serif", serif', fontSize: 63.4, color: '#000' }}>Spiral-only =&gt;</div>
    </div>
  );
}
